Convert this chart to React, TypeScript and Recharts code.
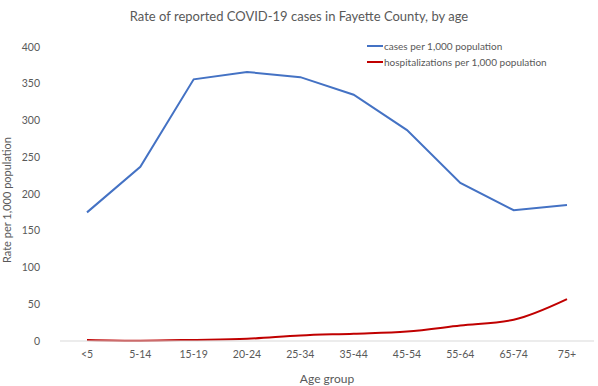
import React from "react";
import { LineChart, Line, XAxis, YAxis } from "recharts";

const ageGroups = ["<5", "5-14", "15-19", "20-24", "25-34", "35-44", "45-54", "55-64", "65-74", "75+"];
const casesPer1000 = [175, 237, 356, 366, 359, 335, 287, 215, 178, 185];
const hospPer1000 = [1.5, 0.5, 1.5, 3, 7.5, 10, 13, 21, 29, 57];
const yTicks = [0, 50, 100, 150, 200, 250, 300, 350, 400];

const data = ageGroups.map((age, i) => ({
  age,
  cases: casesPer1000[i],
  hosp: hospPer1000[i],
}));

const FONT = "Lato, 'Open Sans', 'Liberation Sans', sans-serif";
const TEXT = "#595959";

export default function App() {
  return (
    <div style={{ position: "fixed", left: 0, top: 0, width: 598, height: 386, background: "#fff" }}>
      <div
        style={{
          position: "absolute",
          top: 8,
          width: 598,
          textAlign: "center",
          fontFamily: FONT,
          fontSize: 13,
          color: TEXT,
        }}
      >
        Rate of reported COVID-19 cases in Fayette County, by age
      </div>
      {/* legend drawn outside the chart so it takes no plot space */}
      <div
        style={{
          position: "absolute",
          top: 38,
          left: 367,
          fontFamily: FONT,
          fontSize: 10,
          color: TEXT,
          lineHeight: "16px",
          zIndex: 2,
        }}
      >
        <div style={{ display: "flex", alignItems: "center" }}>
          <span style={{ width: 16, height: 2, background: "#4472c4", display: "inline-block", marginRight: 1 }} />
          cases per 1,000 population
        </div>
        <div style={{ display: "flex", alignItems: "center" }}>
          <span style={{ width: 16, height: 2, background: "#c00000", display: "inline-block", marginRight: 1 }} />
          hospitalizations per 1,000 population
        </div>
      </div>
      <LineChart width={598} height={386} data={data} margin={{ top: 47, right: 4, bottom: 15, left: 10 }}>
        <XAxis
          dataKey="age"
          height={30}
          padding={{ left: 27, right: 27 }}
          tickLine={false}
          axisLine={{ stroke: "#d9d9d9" }}
          tick={{ fontSize: 10.5, fill: TEXT, fontFamily: FONT }}
          tickMargin={4}
          interval={0}
          label={{ value: "Age group", position: "insideBottom", offset: -12, fontSize: 12, fill: TEXT, fontFamily: FONT }}
        />
        <YAxis
          width={50}
          domain={[0, 400]}
          ticks={yTicks}
          axisLine={false}
          tickLine={false}
          tick={{ fontSize: 10.5, fill: TEXT, fontFamily: FONT }}
          tickMargin={14}
          label={{
            value: "Rate per 1,000 population",
            angle: -90,
            position: "insideLeft",
            offset: -3,
            dy: 6,
            style: { textAnchor: "middle" },
            fontSize: 11,
            fill: TEXT,
            fontFamily: FONT,
          }}
        />
        <Line type="linear" dataKey="cases" stroke="#4472c4" strokeWidth={2} dot={false} isAnimationActive={false} />
        <Line type="monotone" dataKey="hosp" stroke="#c00000" strokeWidth={2} dot={false} isAnimationActive={false} />
      </LineChart>
    </div>
  );
}
